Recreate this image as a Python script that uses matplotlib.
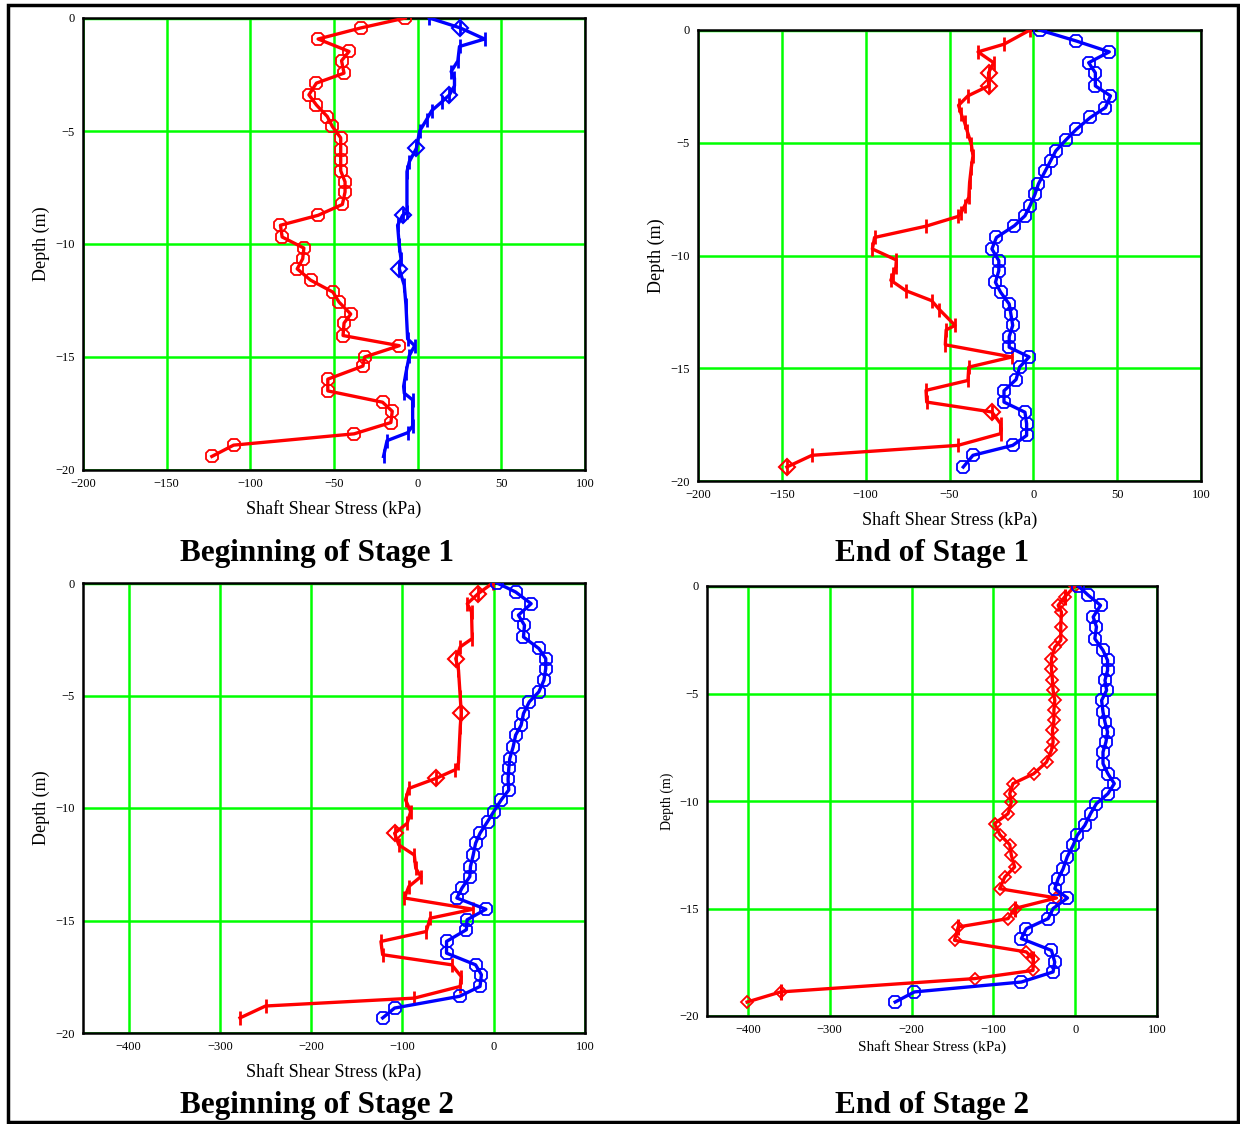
import matplotlib
matplotlib.use("Agg")
import matplotlib.pyplot as plt
from matplotlib.patches import Rectangle

plt.rcParams['font.family'] = ['Liberation Serif', 'DejaVu Serif']

# ---- data (stress kPa, depth m) ----
# Beginning of Stage 1
red1_x = [-7.4, -34, -59.5, -41, -45.5, -44, -60.5, -65, -60.5, -54, -51, -46, -46, -46, -46,
          -43.4, -43.4, -45, -59.5, -82, -81, -68, -68.7, -72, -64, -50.6, -47, -40, -44, -44.6,
          -11, -31.7, -32.7, -53.7, -53.7, -21, -15.2, -16, -38, -110, -123]
red1_y = [0, -0.44, -0.93, -1.48, -1.89, -2.44, -2.88, -3.4, -3.85, -4.36, -4.8, -5.3, -5.84, -6.3,
          -6.76, -7.25, -7.7, -8.25, -8.73, -9.17, -9.69, -10.18, -10.65, -11.1, -11.6, -12.13,
          -12.57, -13.1, -13.5, -14.05, -14.5, -15.0, -15.4, -15.98, -16.5, -17.0, -17.4, -17.9,
          -18.4, -18.9, -19.4]
blue1_x = [7, 25.5, 40, 25, 24, 20, 22, 22, 19, 14.6, 8.4, 5.3, 1.2, -0.8, -5, -6.4, -6.4, -9, -12,
           -11, -10, -11, -8, -7, -6, -1.8, -5, -7, -8.4, -8, -3, -3, -6, -18.3, -20.4]
blue1_y = [0, -0.44, -0.93, -1.26, -1.9, -2.37, -2.66, -3.0, -3.4, -3.7, -4.1, -4.5, -5.0, -5.77,
           -6.36, -6.8, -8.6, -8.73, -9.17, -10.06, -10.65, -11.1, -11.83, -12.7, -14.2, -14.5,
           -14.94, -15.7, -16.3, -16.6, -16.9, -18.05, -18.35, -18.7, -19.4]
blue1_diam = [1, 8, 13, 17, 21]

# End of Stage 1
red2_x = [-2, -17.5, -33, -23.7, -26.7, -26.7, -39, -44.6, -43, -41, -39.5, -37, -36, -37, -38,
          -38.5, -41, -43, -45, -64, -94.7, -96, -81.7, -82, -83.6, -85, -76, -60.7, -56, -46.7,
          -52, -52.5, -12.8, -38.5, -39, -64, -63.6, -24.7, -19.5, -19.5, -45, -132, -147]
red2_y = [0, -0.63, -0.97, -1.45, -1.9, -2.48, -2.92, -3.34, -3.73, -4.1, -4.47, -5.06, -5.58,
          -6.1, -6.76, -7.42, -7.8, -8.1, -8.27, -8.7, -9.2, -9.71, -10.2, -10.52, -10.82, -11.1,
          -11.56, -12.0, -12.4, -13.1, -13.3, -13.96, -14.5, -14.95, -15.54, -15.98, -16.5,
          -16.94, -17.46, -17.9, -18.42, -18.86, -19.38]
red2_diam = [4, 5, 37, 42]
blue2_x = [3.7, 25.7, 45.3, 33, 37, 37, 46, 43, 34, 25.7, 19.5, 13.4, 10.3, 7.2, 3, 1, -2, -5,
           -11.3, -22, -24.7, -20.6, -20.6, -22.6, -19.5, -14.4, -13.4, -12.3, -14.4, -14.4, -2.5,
           -8.2, -10.3, -17.5, -17.5, -5, -4, -4, -12.3, -36, -41.8]
blue2_y = [0, -0.49, -0.97, -1.45, -1.9, -2.48, -2.92, -3.44, -3.88, -4.4, -4.87, -5.36, -5.8,
           -6.24, -6.83, -7.28, -7.8, -8.24, -8.68, -9.2, -9.71, -10.23, -10.67, -11.19, -11.63,
           -12.15, -12.6, -13.1, -13.6, -14.07, -14.5, -14.95, -15.5, -16.0, -16.5, -16.95,
           -17.46, -17.98, -18.42, -18.86, -19.38]

# Beginning of Stage 2
red3_x = [-1, -17, -29, -24.3, -23.6, -36.7, -41.6, -38.6, -36.7, -35.6, -36.7, -38.6, -42.3,
          -63, -93, -96.6, -91, -94.8, -108.6, -104, -87, -85.4, -79.8, -93, -97.8, -22.8, -69.7,
          -74, -123.6, -121.7, -46, -35.6, -36.7, -87, -250, -278]
red3_y = [0, -0.47, -0.92, -1.29, -2.47, -2.84, -3.36, -3.87, -5.06, -5.77, -6.39, -8.0, -8.3,
          -8.68, -9.13, -9.64, -10.16, -10.68, -11.12, -11.64, -12.09, -12.68, -13.05, -13.49,
          -14.0, -14.5, -14.9, -15.49, -15.93, -16.52, -16.97, -17.49, -17.93, -18.45, -18.8,
          -19.33]
red3_diam = [1, 6, 9, 13, 18]
blue3_x = [3.7, 24, 41, 27, 33.7, 32.6, 49.4, 57, 57, 55, 49.4, 39, 32.6, 30, 24, 21.3, 17.6,
           16.5, 15.7, 16.5, 8.2, 0, -6.7, -15, -19.9, -22.5, -25.5, -26.2, -34.8, -40.4, -8.6,
           -29.2, -30, -51.7, -51.7, -19.9, -13.5, -15, -37.5, -108.6, -121.7]
blue3_y = [0, -0.4, -0.92, -1.43, -1.88, -2.4, -2.91, -3.36, -3.8, -4.32, -4.84, -5.28, -5.8,
           -6.32, -6.76, -7.28, -7.8, -8.24, -8.73, -9.2, -9.64, -10.16, -10.6, -11.12, -11.57,
           -12.09, -12.6, -13.05, -13.56, -14.0, -14.5, -14.97, -15.41, -15.93, -16.45, -16.97,
           -17.41, -17.93, -18.37, -18.89, -19.33]

# End of Stage 2
red4_x = [0, -12.7, -20.8, -16.8, -17.6, -17.6, -24.9, -29, -29, -27.8, -27, -24.9, -26, -26,
          -27.8, -27, -29, -35, -50.7, -76, -80, -78, -82, -98.5, -92, -80, -78, -74, -86, -92.3,
          -22.9, -74, -82, -143, -147.5, -59.7, -51.5, -51.5, -123, -360, -401]
red4_y = [0, -0.5, -0.9, -1.21, -1.9, -2.53, -2.84, -3.38, -3.84, -4.39, -4.85, -5.32, -5.78,
          -6.25, -6.71, -7.26, -7.64, -8.19, -8.73, -9.19, -9.66, -10.05, -10.59, -11.05, -11.57,
          -12.03, -12.53, -13.07, -13.53, -14.08, -14.51, -15.0, -15.47, -15.86, -16.48, -17.02,
          -17.33, -17.88, -18.26, -18.88, -19.35]
red4_bar = [1, 31, 33, 36, 39]
blue4_x = [3.7, 16, 31, 22, 26, 24, 34, 39.6, 39.6, 36.4, 38.4, 32.3, 34, 36.4, 39.6, 37.6, 34,
           34, 40, 47.8, 40, 26, 18.8, 11.8, 2.5, -2.5, -9.8, -14.7, -20.8, -24.9, -9.4, -27, -33,
           -59.7, -65.8, -29, -25, -27, -65.8, -196.5, -220]
blue4_y = [0, -0.43, -0.9, -1.44, -1.9, -2.45, -2.99, -3.46, -3.92, -4.39, -4.85, -5.32, -5.86,
           -6.33, -6.79, -7.26, -7.72, -8.26, -8.73, -9.19, -9.66, -10.12, -10.59, -11.13, -11.6,
           -12.06, -12.6, -13.15, -13.61, -14.08, -14.51, -15.0, -15.47, -15.94, -16.4, -16.95,
           -17.49, -17.95, -18.42, -18.88, -19.35]

titles = ["Beginning of Stage 1", "End of Stage 1", "Beginning of Stage 2", "End of Stage 2"]
xticks_a = [-200, -150, -100, -50, 0, 50, 100]
xticks_b = [-400, -300, -200, -100, 0, 100]
yticks = [0, -5, -10, -15, -20]

W, H = 1240, 1124
fig = plt.figure(figsize=(W / 100, H / 100), dpi=100)
fig.patches.append(Rectangle((8 / W, 1 - 1122 / H), 1230 / W, 1117 / H, transform=fig.transFigure,
                             fill=False, edgecolor='black', linewidth=2.5))


def px_axes(l, t, r, b):
    return fig.add_axes([l / W, 1 - b / H, (r - l) / W, (b - t) / H])


RED = '#ff0000'
BLUE = '#0000ff'
GREEN = '#00ff00'


def trace(ax, xs, ys, color, marker, alt=None, alt_idx=()):
    kw = dict(color=color, lw=2.4, zorder=3)
    if marker == '8':
        ax.plot(xs, ys, marker='8', ms=10, mfc='none', mec=color, mew=1.3, **kw)
    elif marker == 'D':
        ax.plot(xs, ys, marker='D', ms=6.5, mfc='none', mec=color, mew=1.3, **kw)
    else:
        ax.plot(xs, ys, marker='|', ms=10, mec=color, mew=2.0, **kw)
    if alt_idx:
        ax_x = [xs[i] for i in alt_idx]
        ax_y = [ys[i] for i in alt_idx]
        if alt == 'D':
            ax.plot(ax_x, ax_y, ls='none', marker='D', ms=8, mfc='none', mec=color, mew=1.5, zorder=4)
        else:
            ax.plot(ax_x, ax_y, ls='none', marker='|', ms=12, mec=color, mew=2.2, zorder=4)


def style(ax, xlim, xticks, small=False):
    ax.set_xlim(*xlim)
    ax.set_ylim(-20, 0)
    ax.set_xticks(xticks)
    ax.set_yticks(yticks)
    ax.grid(True, color=GREEN, lw=1.8, zorder=1)
    ax.set_axisbelow(True)
    ax.axhline(0, color=GREEN, lw=2.5, zorder=2)
    for s in ax.spines.values():
        s.set_linewidth(1.8)
        s.set_color('black')
    ax.tick_params(length=0, labelsize=9)
    ax.tick_params(axis='x', pad=6)
    ax.tick_params(axis='y', pad=6)
    if small:
        ax.set_xlabel("Shaft Shear Stress (kPa)", fontsize=11, labelpad=3)
        ax.set_ylabel("Depth (m)", fontsize=10, labelpad=4)
    else:
        ax.set_xlabel("Shaft Shear Stress (kPa)", fontsize=13, labelpad=7)
        ax.set_ylabel("Depth (m)", fontsize=13, labelpad=4)


ax1 = px_axes(83, 18, 585, 470)
trace(ax1, red1_x, red1_y, RED, '8')
trace(ax1, blue1_x, blue1_y, BLUE, '|', 'D', blue1_diam)
style(ax1, (-200, 100), xticks_a)

ax2 = px_axes(698, 30, 1201, 481)
trace(ax2, red2_x, red2_y, RED, '|', 'D', red2_diam)
trace(ax2, blue2_x, blue2_y, BLUE, '8')
style(ax2, (-200, 100), xticks_a)

ax3 = px_axes(83, 583, 585, 1033)
trace(ax3, red3_x, red3_y, RED, '|', 'D', red3_diam)
trace(ax3, blue3_x, blue3_y, BLUE, '8')
style(ax3, (-450, 100), xticks_b)

ax4 = px_axes(707, 586, 1157, 1016)
trace(ax4, red4_x, red4_y, RED, 'D', '|', red4_bar)
trace(ax4, blue4_x, blue4_y, BLUE, '8')
style(ax4, (-450, 100), xticks_b, small=True)

title_pos = [(317, 553), (932, 553), (317, 1105), (932, 1105)]
for t, (x, y) in zip(titles, title_pos):
    fig.text(x / W, 1 - y / H, t, ha='center', va='center', fontsize=22.5, fontweight='bold')

fig.savefig("out.png", dpi=100)
